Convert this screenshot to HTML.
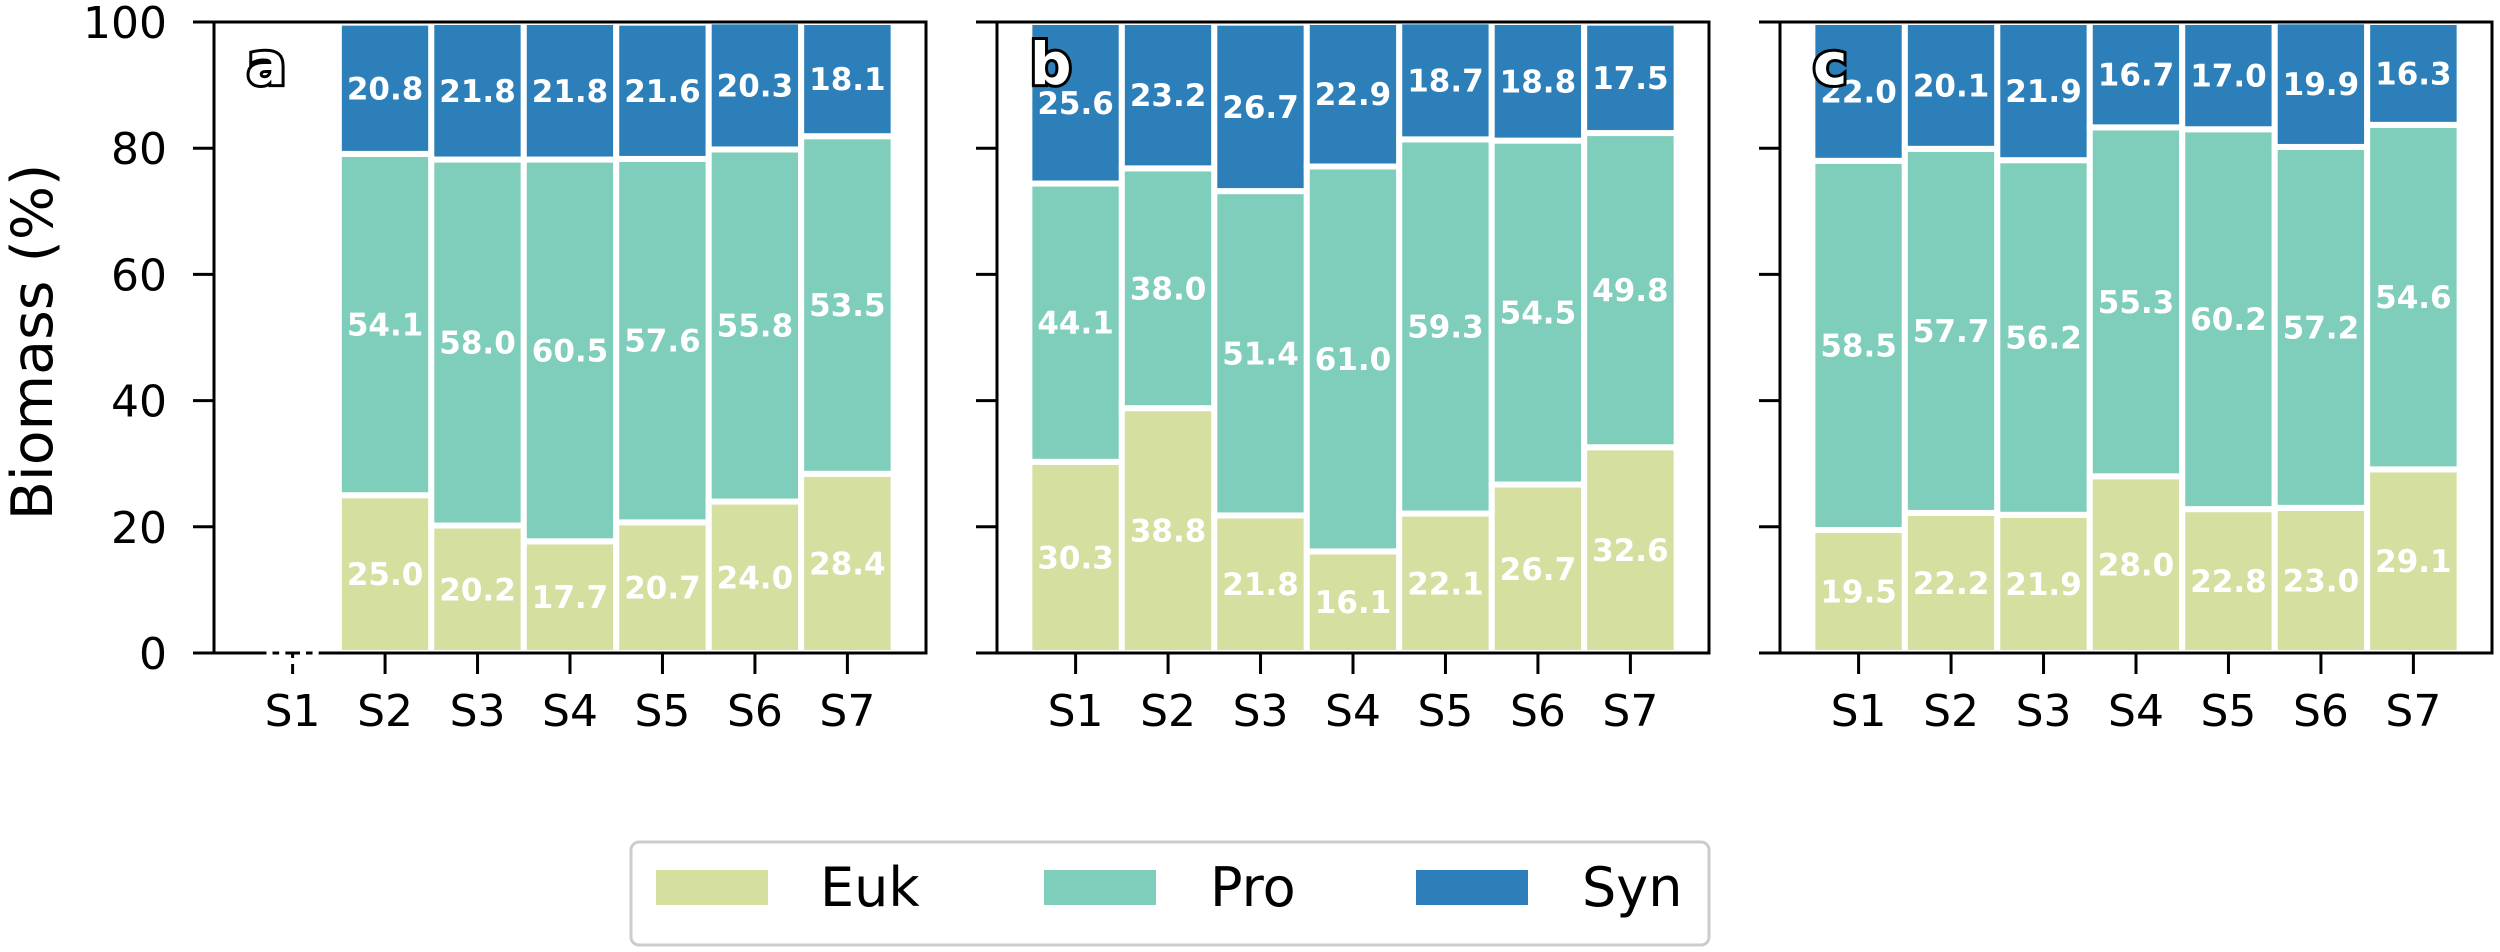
<!DOCTYPE html>
<html><head><meta charset="utf-8"><style>
html,body{margin:0;padding:0;background:#fff;}
svg{display:block;font-family:"DejaVu Sans","Liberation Sans",sans-serif;}
</style></head><body>
<svg id="chart" width="2500" height="952" viewBox="0 0 2500 952" xmlns="http://www.w3.org/2000/svg">
<text transform="translate(52,342) rotate(-90)" text-anchor="middle" font-size="57" fill="#000">Biomass (%)</text>
<g id="panels"></g>
<g>
<rect x="631" y="842" width="1078" height="103" rx="8" fill="#fff" stroke="#cccccc" stroke-width="3"/>
<rect x="656" y="870" width="112" height="35" fill="#d4dfa0"/>
<text x="820" y="906" font-size="54" fill="#000">Euk</text>
<rect x="1044" y="870" width="112" height="35" fill="#7fcdbb"/>
<text x="1210" y="906" font-size="54" fill="#000">Pro</text>
<rect x="1416" y="870" width="112" height="35" fill="#2c7fb8"/>
<text x="1582" y="906" font-size="54" fill="#000">Syn</text>
</g>
</svg>
<script>
const categories = ["S1","S2","S3","S4","S5","S6","S7"];
const panelLabels = ["a","b","c"];
const yTicks = [0,20,40,60,80,100];
const eukA = [0,25.0,20.2,17.7,20.7,24.0,28.4];
const proA = [0,54.1,58.0,60.5,57.6,55.8,53.5];
const synA = [0,20.8,21.8,21.8,21.6,20.3,18.1];
const eukB = [30.3,38.8,21.8,16.1,22.1,26.7,32.6];
const proB = [44.1,38.0,51.4,61.0,59.3,54.5,49.8];
const synB = [25.6,23.2,26.7,22.9,18.7,18.8,17.5];
const eukC = [19.5,22.2,21.9,28.0,22.8,23.0,29.1];
const proC = [58.5,57.7,56.2,55.3,60.2,57.2,54.6];
const synC = [22.0,20.1,21.9,16.7,17.0,19.9,16.3];

const NS = "http://www.w3.org/2000/svg";
const panelLefts = [214, 997, 1780];
const panelW = 712, yTop = 22, yBot = 653;
const colors = {euk:"#d4dfa0", pro:"#7fcdbb", syn:"#2c7fb8"};
const root = document.getElementById("panels");
function mk(tag, attrs, parent){const e=document.createElementNS(NS,tag);for(const k in attrs)e.setAttribute(k,attrs[k]);parent.appendChild(e);return e;}
function yScale(v){return yBot - (v/100)*(yBot-yTop);}
const panelsData = [[eukA,proA,synA],[eukB,proB,synB],[eukC,proC,synC]];
panelsData.forEach((pd, pi) => {
  const L = panelLefts[pi];
  const pitch = panelW/7.7;
  const xScale = i => L + (i + 0.85) * pitch;
  const g = mk("g", {}, root);
  
  
  const clip = mk("clipPath", {id:"clip"+pi}, g);
  mk("rect", {x:L, y:yTop, width:panelW, height:yBot-yTop}, clip);
  const bars = mk("g", {"clip-path":"url(#clip"+pi+")"}, g);
  const names = ["euk","pro","syn"];
  const labels = [];
  categories.forEach((c, i) => {
    let base = 0;
    names.forEach((n, si) => {
      const v = pd[si][i];
      const y0 = yScale(base), y1 = yScale(base + v);
      const r = mk("rect", {x:xScale(i)-pitch/2, y:y1, width:pitch, height:Math.max(0,y0-y1), fill:colors[n], stroke:"#fff", "stroke-width":6}, bars);
      
      
      labels.push([xScale(i), (y0+y1)/2, v.toFixed(1), n, c]);
      base += v;
    });
  });
  mk("line", {x1:L, y1:yTop, x2:L, y2:yBot, stroke:"#000", "stroke-width":3}, g);
  mk("line", {x1:L+panelW, y1:yTop, x2:L+panelW, y2:yBot, stroke:"#000", "stroke-width":3}, g);
  mk("line", {x1:L-1.5, y1:yTop, x2:L+panelW+1.5, y2:yTop, stroke:"#000", "stroke-width":3}, g);
  mk("line", {x1:L-1.5, y1:yBot, x2:L+panelW+1.5, y2:yBot, stroke:"#000", "stroke-width":3}, g);
  yTicks.forEach(t => {
    mk("line", {x1:L-21, y1:yScale(t), x2:L, y2:yScale(t), stroke:"#000", "stroke-width":3}, g);
    if (pi === 0) {
      const tx = mk("text", {x:L-47, y:yScale(t)+16, "text-anchor":"end", "font-size":44, fill:"#000"}, g);
      tx.textContent = t;
      
      
    }
  });
  categories.forEach((c, i) => {
    mk("line", {x1:xScale(i), y1:yBot, x2:xScale(i), y2:yBot+21, stroke:"#000", "stroke-width":3}, g);
    const tx = mk("text", {x:xScale(i), y:726, "text-anchor":"middle", "font-size":44, fill:"#000"}, g);
    tx.textContent = c;
    
    
  });
  labels.forEach(l => {
    const tx = mk("text", {x:l[0], y:l[1]+11, "text-anchor":"middle", "font-size":31, "font-weight":"bold", fill:"#fff"}, g);
    tx.textContent = l[2];
    
    
  });
  const pl = mk("text", {x:L+33, y:84, "font-size":58, "font-weight":"bold", fill:"#fff", stroke:"#000", "stroke-width":6, "paint-order":"stroke"}, g);
  pl.textContent = panelLabels[pi];
  
  
});
</script>
</body></html>
